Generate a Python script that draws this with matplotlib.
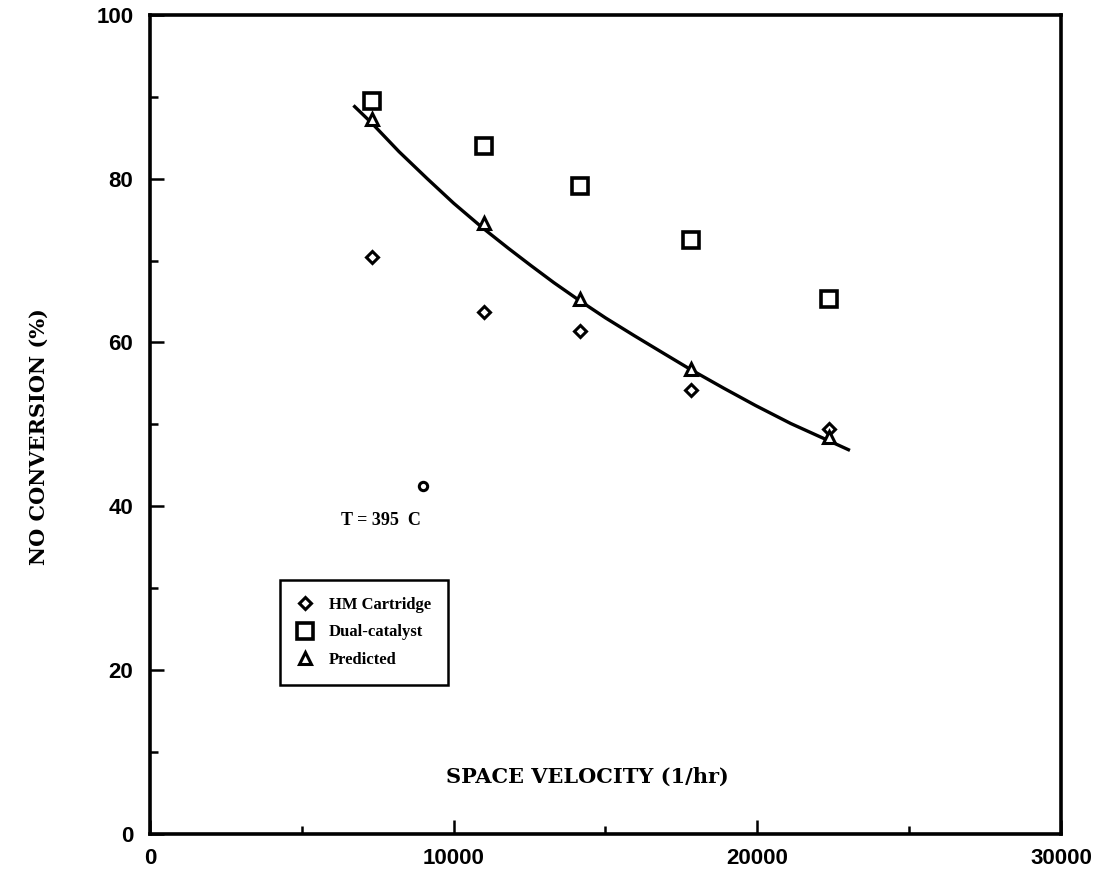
import matplotlib
matplotlib.use("Agg")
import matplotlib.pyplot as plt
from matplotlib.ticker import MultipleLocator

# ---- data ----
space_velocity = [7300, 11000, 14150, 17800, 22350]
hm_cartridge = [70.4, 63.7, 61.4, 54.2, 49.4]
dual_catalyst = [89.5, 84.0, 79.1, 72.5, 65.3]
predicted = [87.3, 74.6, 65.3, 56.7, 48.4]

stray_x = [9000]
stray_y = [42.5]

# fitted curve, points
curve_x = [6740, 7300, 8200, 9130, 10000, 10950, 11800, 12540, 13300, 14150,
           15000, 15960, 16900, 17800, 18900, 19940, 21100, 22350, 23000]
curve_y = [88.8, 86.8, 83.3, 80.0, 77.0, 74.0, 71.5, 69.4, 67.3, 65.1,
           63.0, 60.8, 58.7, 56.7, 54.4, 52.3, 50.1, 48.0, 46.9]

x_ticks = [0, 10000, 20000, 30000]
y_ticks = [0, 20, 40, 60, 80, 100]

fig = plt.figure(figsize=(10.97, 8.74), dpi=100)
ax = fig.add_axes([0.1367, 0.046, 0.8305, 0.937])

ax.plot(curve_x, curve_y, color="black", lw=2.4, zorder=2)
ax.plot(space_velocity, hm_cartridge, linestyle="none", marker="D", ms=6,
        mfc="white", mec="black", mew=2.2, label="HM Cartridge", zorder=3)
ax.plot(space_velocity, dual_catalyst, linestyle="none", marker="s", ms=11,
        mfc="white", mec="black", mew=2.6, label="Dual-catalyst", zorder=3)
ax.plot(space_velocity, predicted, linestyle="none", marker="^", ms=8,
        mfc="white", mec="black", mew=2.2, label="Predicted", zorder=3)
ax.plot(stray_x, stray_y, linestyle="none", marker="o", ms=6,
        mfc="white", mec="black", mew=2.2, zorder=3)

ax.set_xlim(0, 30000)
ax.set_ylim(0, 100)
ax.set_xticks(x_ticks)
ax.set_yticks(y_ticks)
ax.xaxis.set_minor_locator(MultipleLocator(5000))
ax.yaxis.set_minor_locator(MultipleLocator(10))
ax.tick_params(which="both", direction="in", width=1.8, top=False, right=False)
ax.tick_params(which="major", length=10)
ax.tick_params(which="minor", length=6)
ax.tick_params(axis="x", pad=10)
ax.tick_params(axis="y", pad=12)
for lab in ax.get_xticklabels() + ax.get_yticklabels():
    lab.set_fontfamily("Liberation Sans")
    lab.set_fontweight("bold")
    lab.set_fontsize(16)
for sp in ax.spines.values():
    sp.set_linewidth(2.6)

ax.text(14400, 7, "SPACE VELOCITY (1/hr)", ha="center", va="center",
        fontfamily="DejaVu Serif", fontweight="bold", fontsize=15)
fig.text(0.035, 0.50, "NO CONVERSION (%)", rotation=90, ha="center", va="center",
         fontfamily="DejaVu Serif", fontweight="bold", fontsize=15)
ax.text(6300, 38.2, "T = 395  C", ha="left", va="center",
        fontfamily="Liberation Serif", fontweight="bold", fontsize=13)

leg = ax.legend(loc="upper left", bbox_to_anchor=(0.134, 0.32), frameon=True,
                fancybox=False, edgecolor="black", framealpha=1,
                prop={"family": "Liberation Serif", "size": 12, "weight": "bold"},
                handlelength=1.0, handletextpad=0.9, borderpad=1.0,
                labelspacing=0.7, numpoints=1)
leg.get_frame().set_linewidth(1.8)

fig.savefig("out.png", dpi=100)
